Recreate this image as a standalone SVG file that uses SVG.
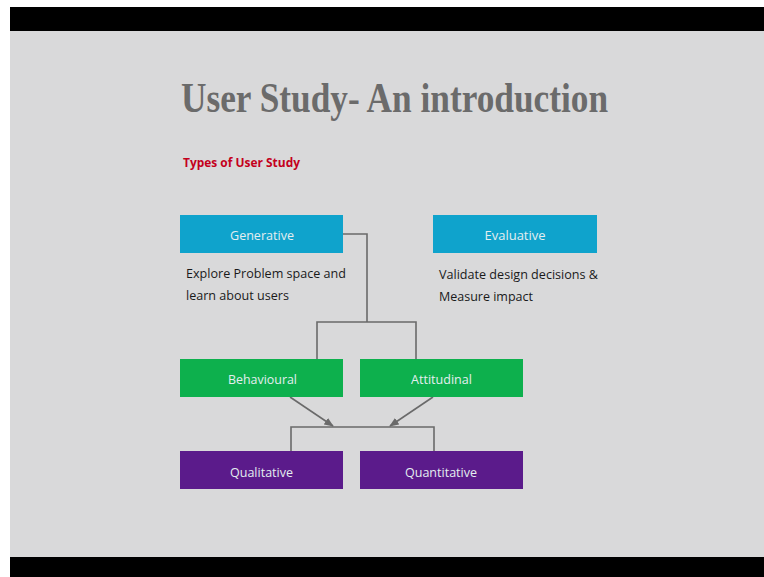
<svg xmlns="http://www.w3.org/2000/svg" width="764" height="577" viewBox="0 0 764 577">
  <style>
    .lbl { font-family: "Open Sans", "Liberation Sans", sans-serif; font-size: 13.5px; text-anchor: middle; fill: #e4eef0; }
    .note { font-family: "Open Sans", "Liberation Sans", sans-serif; font-size: 13.5px; fill: #1a1a1a; }
    .wire { fill: none; stroke: #6a6a6a; stroke-width: 1.6; }
    .blue { fill: #0fa3cc; }
    .green { fill: #0db04d; }
    .purple { fill: #5b1b8b; }
  </style>
  <defs>
    <marker id="arrow" viewBox="0 0 10 10" refX="9" refY="5" markerWidth="6" markerHeight="6" orient="auto">
      <path d="M0,1 L10,5 L0,9 z" fill="#6a6a6a"/>
    </marker>
  </defs>

  <!-- frame -->
  <rect x="0" y="0" width="764" height="577" fill="#ffffff"/>
  <rect x="10" y="7" width="754" height="24" fill="#000000"/>
  <rect x="10" y="31" width="754" height="526" fill="#d9d9da"/>
  <rect x="10" y="557" width="754" height="20" fill="#000000"/>

  <!-- headings -->
  <text x="181" y="112" font-family="'Liberation Serif', 'Times New Roman', serif" font-weight="bold" font-size="43" fill="#6b6b6b" textLength="427" lengthAdjust="spacingAndGlyphs">User Study- An introduction</text>
  <text x="183" y="167" font-family="'Open Sans', 'Liberation Sans', sans-serif" font-weight="bold" font-size="12.5" fill="#c4001c" textLength="117" lengthAdjust="spacingAndGlyphs">Types of User Study</text>

  <!-- connectors -->
  <g id="connectors">
    <path class="wire" d="M343,234 H367 V322"/>
    <path class="wire" d="M317,359 V322 H416 V359"/>
    <path class="wire" d="M290,397 L333,426" marker-end="url(#arrow)"/>
    <path class="wire" d="M433,397 L390,426" marker-end="url(#arrow)"/>
    <path class="wire" d="M291,451 V427 H434 V451"/>
  </g>

  <g id="generative">
    <rect class="blue" x="180" y="215" width="163" height="38"/>
    <text class="lbl" x="262" y="240" textLength="64" lengthAdjust="spacingAndGlyphs">Generative</text>
    <text class="note" x="186" y="278" textLength="160" lengthAdjust="spacingAndGlyphs">Explore Problem space and</text>
    <text class="note" x="186" y="300" textLength="103" lengthAdjust="spacingAndGlyphs">learn about users</text>
  </g>

  <g id="evaluative">
    <rect class="blue" x="433" y="215" width="164" height="38"/>
    <text class="lbl" x="515" y="240" textLength="61" lengthAdjust="spacingAndGlyphs">Evaluative</text>
    <text class="note" x="439" y="279" textLength="159" lengthAdjust="spacingAndGlyphs">Validate design decisions &amp;</text>
    <text class="note" x="439" y="301" textLength="94" lengthAdjust="spacingAndGlyphs">Measure impact</text>
  </g>

  <g id="behavioural">
    <rect class="green" x="180" y="359" width="163" height="38"/>
    <text class="lbl" x="262.5" y="384" textLength="69" lengthAdjust="spacingAndGlyphs">Behavioural</text>
  </g>

  <g id="attitudinal">
    <rect class="green" x="360" y="359" width="163" height="38"/>
    <text class="lbl" x="441.5" y="384" textLength="61" lengthAdjust="spacingAndGlyphs">Attitudinal</text>
  </g>

  <g id="qualitative">
    <rect class="purple" x="180" y="451" width="163" height="38"/>
    <text class="lbl" x="261.5" y="477" textLength="63" lengthAdjust="spacingAndGlyphs">Qualitative</text>
  </g>

  <g id="quantitative">
    <rect class="purple" x="360" y="451" width="163" height="38"/>
    <text class="lbl" x="441" y="477" textLength="72" lengthAdjust="spacingAndGlyphs">Quantitative</text>
  </g>
</svg>
